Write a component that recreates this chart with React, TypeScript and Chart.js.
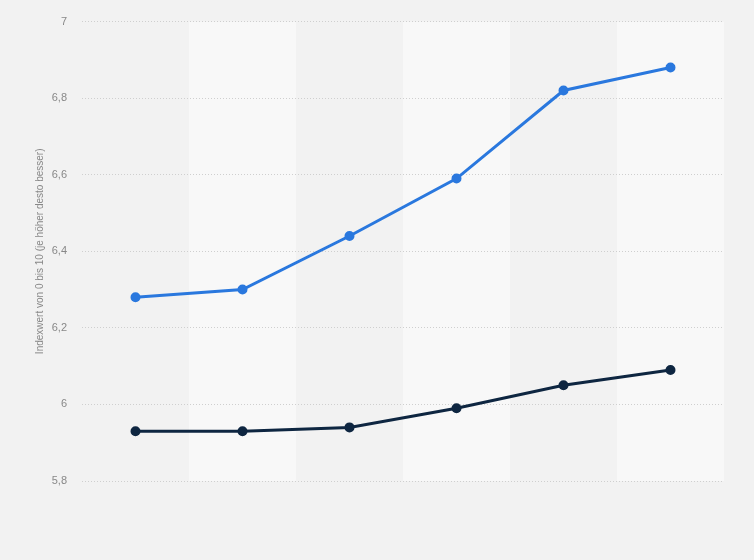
import React, { useEffect, useRef } from "react";
import { Chart, registerables } from "chart.js";

Chart.register(...registerables);

const categories = ["1", "2", "3", "4", "5", "6"];
const seriesBlue = [6.28, 6.3, 6.44, 6.59, 6.82, 6.88];
const seriesDark = [5.93, 5.93, 5.94, 5.99, 6.05, 6.09];
const yTitle = "Indexwert von 0 bis 10 (je höher desto besser)";

const bandPlugin = {
  id: "bands",
  beforeDraw(chart: any) {
    const { ctx, chartArea } = chart;
    const n = categories.length;
    const w = (chartArea.right - chartArea.left) / n;
    ctx.save();
    for (let i = 0; i < n; i++) {
      if (i % 2 === 1) {
        ctx.fillStyle = "#f8f8f8";
        ctx.fillRect(chartArea.left + i * w, chartArea.top, w, chartArea.bottom - chartArea.top);
      }
    }
    ctx.restore();
  },
};

export default function App() {
  const ref = useRef<HTMLCanvasElement | null>(null);
  useEffect(() => {
    document.body.style.margin = "0";
    document.body.style.background = "#f2f2f2";
    const chart = new Chart(ref.current!, {
      type: "line",
      data: {
        labels: categories,
        datasets: [
          {
            data: seriesBlue,
            borderColor: "#2a78de",
            backgroundColor: "#2a78de",
            borderWidth: 3,
            pointRadius: 3.5,
            pointHoverRadius: 3.5,
            tension: 0,
          },
          {
            data: seriesDark,
            borderColor: "#0e2641",
            backgroundColor: "#0e2641",
            borderWidth: 3,
            pointRadius: 3.5,
            pointHoverRadius: 3.5,
            tension: 0,
          },
        ],
      },
      plugins: [bandPlugin],
      options: {
        responsive: false,
        animation: false,
        layout: { padding: { left: 0, right: 30, top: 20, bottom: 79 } },
        plugins: { legend: { display: false }, tooltip: { enabled: false } },
        scales: {
          x: {
            display: false,
            offset: true,
            grid: { display: false },
          },
          y: {
            min: 5.8,
            max: 7,
            afterFit: (s: any) => {
              s.width = 82;
            },
            border: { display: false, dash: [1, 2] },
            grid: {
              color: "#cfcfcf",
              drawTicks: false,
            },
            ticks: {
              stepSize: 0.2,
              padding: 15,
              color: "#888",
              font: { family: "Arial, 'Liberation Sans', sans-serif", size: 11 },
              callback: (v: any) => Number(v).toLocaleString("de-DE", { maximumFractionDigits: 1 }),
            },
            title: {
              display: true,
              text: yTitle,
              color: "#888",
              padding: { top: 34, bottom: 0 },
              font: { family: "Arial, 'Liberation Sans', sans-serif", size: 10 },
            },
          },
        },
      },
    } as any);
    return () => chart.destroy();
  }, []);
  return (
    <div style={{ width: 754, height: 560, background: "#f2f2f2" }}>
      <canvas ref={ref} width={754} height={560} />
    </div>
  );
}
